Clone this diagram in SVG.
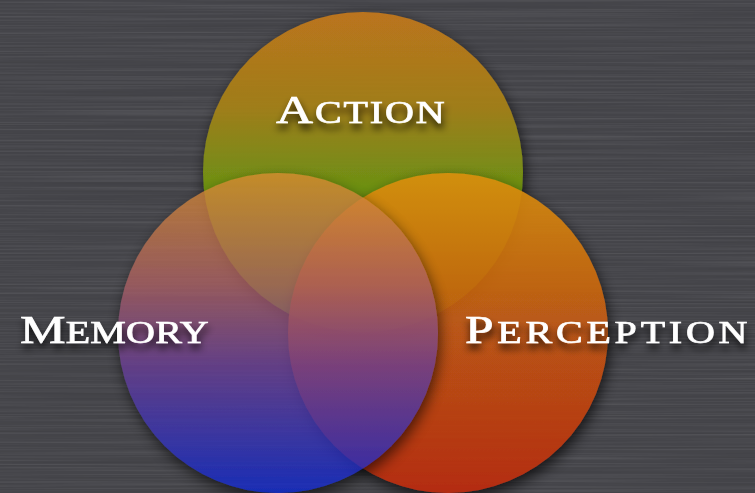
<svg xmlns="http://www.w3.org/2000/svg" width="755" height="493" viewBox="0 0 755 493">
  <defs>
    <style>
      .label { font-family: "Liberation Serif", "DejaVu Serif", serif; fill: #ffffff; stroke: #ffffff; stroke-width: 0.7px; filter: url(#textShadow); }
      .cap { font-size: 41px; }
      .sc { font-size: 32px; }
    </style>
    <!-- brushed-metal backdrop streaks -->
    <filter id="brushed" x="0" y="0" width="100%" height="100%">
      <feTurbulence type="fractalNoise" baseFrequency="0.003 0.55" numOctaves="2" seed="7" result="noise"/>
      <feColorMatrix in="noise" type="matrix" values="0 0 0 0 0  0 0 0 0 0  0 0 0 0 0  0 0 0 -1.1 0.62" result="dark"/>
      <feColorMatrix in="noise" type="matrix" values="0 0 0 0 1  0 0 0 0 1  0 0 0 0 1  0 0 0 1.1 -0.55" result="light"/>
      <feMerge><feMergeNode in="dark"/><feMergeNode in="light"/></feMerge>
    </filter>
    <filter id="circleShadow" x="-20%" y="-20%" width="140%" height="140%">
      <feGaussianBlur in="SourceAlpha" stdDeviation="7"/>
      <feOffset dx="2" dy="6" result="blur"/>
      <feComponentTransfer><feFuncA type="linear" slope="0.75"/></feComponentTransfer>
      <feMerge><feMergeNode/><feMergeNode in="SourceGraphic"/></feMerge>
    </filter>
    <filter id="textShadow" x="-10%" y="-30%" width="120%" height="180%">
      <feGaussianBlur in="SourceAlpha" stdDeviation="3.5"/>
      <feOffset dx="1" dy="6"/>
      <feComponentTransfer><feFuncA type="linear" slope="0.8"/></feComponentTransfer>
      <feMerge><feMergeNode/><feMergeNode in="SourceGraphic"/></feMerge>
    </filter>
    <linearGradient id="gAction" x1="0" y1="0" x2="0" y2="1">
      <stop offset="0" stop-color="#c4781a"/>
      <stop offset="0.3" stop-color="#a68218"/>
      <stop offset="0.55" stop-color="#709610"/>
      <stop offset="1" stop-color="#58a00c"/>
    </linearGradient>
    <linearGradient id="gPerception" x1="0" y1="0" x2="0" y2="1">
      <stop offset="0" stop-color="#da900c"/>
      <stop offset="0.45" stop-color="#c45c12"/>
      <stop offset="1" stop-color="#bd2a10"/>
    </linearGradient>
    <linearGradient id="gMemory" x1="0" y1="0" x2="0" y2="1">
      <stop offset="0" stop-color="#d88c30"/>
      <stop offset="0.35" stop-color="#a85e62"/>
      <stop offset="0.6" stop-color="#6a3e94"/>
      <stop offset="1" stop-color="#0e28d0"/>
    </linearGradient>
  </defs>

  <!-- backdrop -->
  <rect width="755" height="493" fill="#47474c"/>
  <rect width="755" height="493" filter="url(#brushed)" opacity="0.18"/>

  <g id="action">
    <circle cx="363" cy="172" r="160" fill="url(#gAction)" opacity="0.93" filter="url(#circleShadow)"/>
  </g>
  <g id="perception">
    <circle cx="448" cy="333" r="160" fill="url(#gPerception)" opacity="0.92" filter="url(#circleShadow)"/>
  </g>
  <g id="memory">
    <circle cx="278" cy="333" r="160" fill="url(#gMemory)" opacity="0.8" filter="url(#circleShadow)"/>
  </g>

  <g id="labels">
    <text class="label" transform="translate(276,123) scale(1.25,1)" textLength="135" lengthAdjust="spacing"><tspan class="cap">A</tspan><tspan class="sc">CTION</tspan></text>
    <text class="label" transform="translate(20,343) scale(1.25,1)" textLength="151" lengthAdjust="spacing"><tspan class="cap">M</tspan><tspan class="sc">EMORY</tspan></text>
    <text class="label" transform="translate(465,343) scale(1.25,1)" textLength="226" lengthAdjust="spacing"><tspan class="cap">P</tspan><tspan class="sc">ERCEPTION</tspan></text>
  </g>
</svg>
